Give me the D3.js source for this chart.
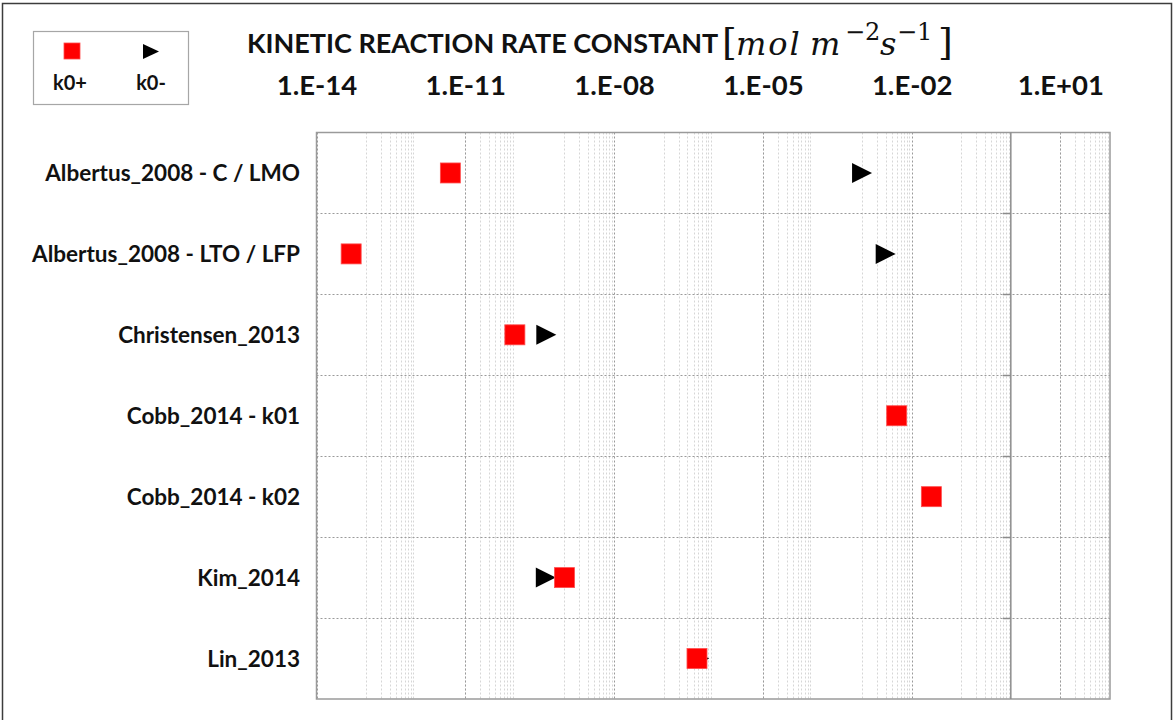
<!DOCTYPE html>
<html>
<head>
<meta charset="utf-8">
<script src="https://cdn.jsdelivr.net/npm/d3@7"></script>
<style>
   body { margin: 0; background: #fff; }
   .title { font-family: Lato, sans-serif; font-weight: bold; font-size: 27px; fill: #111; }
   .math { font-family: "DejaVu Serif", serif; font-style: italic; font-size: 32px; fill: #111; }
   .tickLabel { font-family: Lato, sans-serif; font-weight: bold; font-size: 27.5px; fill: #111; }
   .catLabel { font-family: Lato, sans-serif; font-weight: bold; font-size: 22.5px; fill: #111; }
   .legend { font-family: Lato, sans-serif; font-weight: bold; font-size: 20px; fill: #111; }
</style>
</head>
<body>
<div id="chart"></div>
<script>
const width = 1174;
const height = 720;

const categories = [
   "Albertus_2008 - C / LMO",
   "Albertus_2008 - LTO / LFP",
   "Christensen_2013",
   "Cobb_2014 - k01",
   "Cobb_2014 - k02",
   "Kim_2014",
   "Lin_2013"
];
const k0Plus  = [5e-12, 5e-14, 1e-10, 5e-3, 2.5e-2, 1e-9, 4.7e-7];
const k0Minus = [1e-3, 3e-3, 4.3e-10, null, null, 4.2e-10, 5.2e-7];
const tickValues = [1e-14, 1e-11, 1e-8, 1e-5, 1e-2, 1e1];
const tickLabels = ["1.E-14", "1.E-11", "1.E-08", "1.E-05", "1.E-02", "1.E+01"];

const plot = { left: 316.5, right: 1110, top: 132.5, bottom: 699 };

const svg = d3.select("#chart").append("svg")
   .attr("width", width)
   .attr("height", height);

// outer frame
svg.append("rect")
   .attr("x", 2.5).attr("y", 3.5)
   .attr("width", 1169).attr("height", 740)
   .style("fill", "none")
   .style("stroke", "#3c3c3c")
   .style("stroke-width", 1.5);

const x = d3.scaleLog()
   .domain([1e-14, 1e2])
   .range([plot.left, plot.right]);

const y = d3.scaleBand()
   .domain(categories)
   .range([plot.top, plot.bottom]);

// minor grid: every other decade
let minorTicks = [];
for (let e = -13; e <= 1; e += 2) {
   for (let k = 1; k <= 9; k++) minorTicks.push(k * Math.pow(10, e));
}

svg.append("g").selectAll("line.minor")
   .data(minorTicks)
   .enter()
   .append("line")
   .attr("class", "minor")
   .attr("x1", d => Math.round(x(d)) + 0.5)
   .attr("x2", d => Math.round(x(d)) + 0.5)
   .attr("y1", plot.top)
   .attr("y2", plot.bottom)
   .style("stroke", "#d6d6d6")
   .style("stroke-dasharray", "2,2");

svg.append("g").selectAll("line.major")
   .data(tickValues)
   .enter()
   .append("line")
   .attr("class", "major")
   .attr("x1", d => Math.round(x(d)) + 0.5)
   .attr("x2", d => Math.round(x(d)) + 0.5)
   .attr("y1", plot.top)
   .attr("y2", plot.bottom)
   .style("stroke", "#9a9a9a")
   .style("stroke-dasharray", "2,2");

// horizontal grid at category boundaries
svg.append("g").selectAll("line.hgrid")
   .data(categories.slice(1))
   .enter()
   .append("line")
   .attr("class", "hgrid")
   .attr("x1", plot.left)
   .attr("x2", plot.right)
   .attr("y1", d => Math.round(y(d)) + 0.5)
   .attr("y2", d => Math.round(y(d)) + 0.5)
   .style("stroke", "#9a9a9a")
   .style("stroke-dasharray", "2,2");

// plot border
svg.append("rect")
   .attr("x", plot.left).attr("y", plot.top)
   .attr("width", plot.right - plot.left)
   .attr("height", plot.bottom - plot.top)
   .style("fill", "none")
   .style("stroke", "#9a9a9a")
   .style("stroke-width", 1.5);

// category axis crossing at 1
const axisX = x(1);
svg.append("line")
   .attr("x1", axisX).attr("x2", axisX)
   .attr("y1", plot.top).attr("y2", plot.bottom)
   .style("stroke", "#8c8c8c")
   .style("stroke-width", 1.5);

svg.append("g").selectAll("line.ytick")
   .data(categories.slice(1))
   .enter()
   .append("line")
   .attr("class", "ytick")
   .attr("x1", axisX - 8).attr("x2", axisX)
   .attr("y1", d => Math.round(y(d)) + 0.5)
   .attr("y2", d => Math.round(y(d)) + 0.5)
   .style("stroke", "#8c8c8c")
   .style("stroke-width", 1.5);

svg.append("g").selectAll("text.catLabel")
   .data(categories)
   .enter()
   .append("text")
   .attr("class", "catLabel")
   .attr("x", 300)
   .attr("y", d => y(d) + y.bandwidth() / 2)
   .attr("dy", "0.36em")
   .style("text-anchor", "end")
   .text(d => d);

// top tick labels
const xAxis = d3.axisTop(x)
   .tickValues(tickValues)
   .tickFormat((d, i) => tickLabels[i])
   .tickSize(0)
   .tickPadding(0);

const gx = svg.append("g")
   .attr("transform", "translate(0,95)")
   .call(xAxis);
gx.select(".domain").remove();
gx.selectAll("text")
   .attr("class", "tickLabel")
   .attr("font-size", null)
   .attr("font-family", null)
   .attr("fill", null);

// title
svg.append("text")
   .attr("class", "title")
   .attr("x", 247)
   .attr("y", 53)
   .text("KINETIC REACTION RATE CONSTANT");

const math = svg.append("text")
   .attr("class", "math")
   .attr("y", 55);
math.append("tspan").attr("x", 722).style("font-style", "normal").style("font-size", "38px").text("[");
math.append("tspan").attr("x", 736).style("letter-spacing", "2px").text("mol");
math.append("tspan").attr("x", 810).text("m");
math.append("tspan").attr("x", 845).attr("dy", -15).style("font-size", "24px").style("font-style", "normal").text("\u22122");
math.append("tspan").attr("x", 880).attr("dy", 15).text("s");
math.append("tspan").attr("x", 897).attr("dy", -15).style("font-size", "24px").style("font-style", "normal").text("\u22121");
math.append("tspan").attr("x", 938).attr("dy", 15).style("font-style", "normal").style("font-size", "38px").text("]");

// markers
const triPath = (w, h) => `M${-w/2},${-h/2}L${w/2},0L${-w/2},${h/2}Z`;

const minusData = categories.map((c, i) => ({ cat: c, value: k0Minus[i] })).filter(d => d.value != null);
const plusData  = categories.map((c, i) => ({ cat: c, value: k0Plus[i] })).filter(d => d.value != null);

svg.append("g").selectAll("path.k0minus")
   .data(minusData)
   .enter()
   .append("path")
   .attr("class", "k0minus")
   .attr("d", triPath(20, 20))
   .attr("transform", d => `translate(${x(d.value)},${y(d.cat) + y.bandwidth() / 2})`)
   .style("fill", "#000");

svg.append("g").selectAll("rect.k0plus")
   .data(plusData)
   .enter()
   .append("rect")
   .attr("class", "k0plus")
   .attr("x", d => x(d.value) - 10)
   .attr("y", d => y(d.cat) + y.bandwidth() / 2 - 10)
   .attr("width", 20)
   .attr("height", 20)
   .style("fill", "#ff0000")
   .style("stroke", "#ff4d4d")
   .style("stroke-width", 0.8);

// legend
svg.append("rect")
   .attr("x", 33.5).attr("y", 31.5)
   .attr("width", 155).attr("height", 73)
   .style("fill", "#fff")
   .style("stroke", "#a6a6a6")
   .style("stroke-width", 1.2);

svg.append("rect")
   .attr("x", 64).attr("y", 43)
   .attr("width", 16).attr("height", 16)
   .style("fill", "#ff0000")
   .style("stroke", "#ff4d4d")
   .style("stroke-width", 0.8);
svg.append("path")
   .attr("d", triPath(16, 15))
   .attr("transform", "translate(151,51.5)")
   .style("fill", "#000");

svg.append("text")
   .attr("class", "legend")
   .attr("x", 70).attr("y", 90)
   .style("text-anchor", "middle")
   .text("k0+");
svg.append("text")
   .attr("class", "legend")
   .attr("x", 151).attr("y", 90)
   .style("text-anchor", "middle")
   .text("k0-");
</script>
</body>
</html>
